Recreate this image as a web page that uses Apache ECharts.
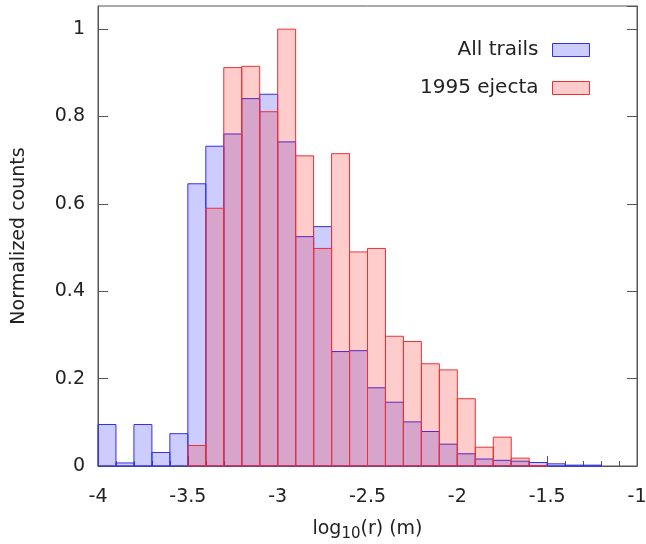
<!DOCTYPE html>
<html><head><meta charset="utf-8">
<script src="https://cdn.jsdelivr.net/npm/echarts@6/dist/echarts.min.js"></script>
<style>html,body{margin:0;padding:0;background:#fff}#c{width:646px;height:544px}</style>
</head><body><div id="c"></div>
<script>
// Histogram bins: left edges from -4 in steps of 0.1 (bin index i)
var binStart = -4, binWidth = 0.1;
var allTrails = [0.095,0.007,0.095,0.031,0.074,0.646,0.732,0.760,0.841,0.851,0.742,0.525,0.548,0.262,0.264,0.179,0.146,0.101,0.079,0.050,0.028,0.016,0.013,0.011,0.008,0.005,0.002,0.002];
var ejecta1995 = [null,null,null,null,null,0.047,0.590,0.912,0.915,0.811,1.0,0.710,0.498,0.715,0.490,0.498,0.297,0.285,0.234,0.220,0.154,0.043,0.066,0.018,0.001];
var xTicks = [-4,-3.5,-3,-2.5,-2,-1.5,-1];
var yTicks = [0,0.2,0.4,0.6,0.8,1];

function toData(arr){
  var out=[];
  arr.forEach(function(v,i){
    if(v===null) return;
    var x0 = +(binStart + i*binWidth).toFixed(2);
    out.push([x0, +(x0+binWidth).toFixed(2), v]);
  });
  return out;
}
function renderBar(fill, stroke){
  return function(params, api){
    var p0 = api.coord([api.value(0), api.value(2)]);
    var p1 = api.coord([api.value(1), 0]);
    return {type:'rect', shape:{x:p0[0], y:p0[1], width:p1[0]-p0[0], height:p1[1]-p0[1]},
      style:{fill:fill, stroke:stroke, lineWidth:1}};
  };
}
var font = 'DejaVu Sans';
var tc = '#222';
var chart = echarts.init(document.getElementById('c'), null, {renderer:'canvas'});
chart.setOption({
  animation:false,
  textStyle:{fontFamily:font},
  grid:{left:98, right:9, top:6, bottom:78, outerBoundsMode:'none', containLabel:false, show:true, borderColor:'#555', borderWidth:1, backgroundColor:'transparent'},
  legend:{
    orient:'vertical', right:51, top:35, align:'right', itemWidth:37, itemHeight:13, itemGap:18,
    textStyle:{fontFamily:font, fontSize:20, color:tc, padding:[0,9,0,0]},
    data:[
      {name:'All trails', icon:'rect', itemStyle:{color:'rgba(0,0,255,0.2)', borderColor:'#3030ee', borderWidth:1}},
      {name:'1995 ejecta', icon:'rect', itemStyle:{color:'rgba(255,0,0,0.2)', borderColor:'#ee3030', borderWidth:1}}
    ]
  },
  xAxis:{
    type:'value', min:xTicks[0], max:xTicks[xTicks.length-1], interval:0.5,
    name:'{a|log}{s|10}{a|(r) (m)}', nameLocation:'middle', nameGap:50,
    nameTextStyle:{rich:{a:{fontFamily:font,fontSize:19,color:tc}, s:{fontFamily:font,fontSize:15,color:tc,verticalAlign:'bottom',padding:[11,0,0,0]}}},
    axisLine:{show:true, onZero:false, lineStyle:{color:'#555'}},
    axisTick:{show:true, inside:true, length:10, lineStyle:{color:'#555'}},
    minorTick:{show:true, splitNumber:5, length:5, lineStyle:{color:'#555'}},
    splitLine:{show:false},
    axisLabel:{margin:22, fontFamily:font, fontSize:19, color:tc, formatter:function(v){return String(v);}}
  },
  yAxis:[{
    type:'value', min:0, max:1.053, interval:0.2,
    name:'Normalized counts', nameLocation:'middle', nameGap:69,
    nameTextStyle:{fontFamily:font, fontSize:19, color:tc},
    axisLine:{show:true, lineStyle:{color:'#555'}},
    axisTick:{show:true, inside:true, length:10, lineStyle:{color:'#555'}},
    splitLine:{show:false},
    axisLabel:{margin:13, fontFamily:font, fontSize:19, color:tc, showMaxLabel:false,
      formatter:function(v){return yTicks.indexOf(+v.toFixed(2))>=0?String(+v.toFixed(2)):'';}}
  },{
    type:'value', min:0, max:1.053, interval:0.2, position:'right',
    axisLine:{show:true, lineStyle:{color:'#555'}},
    axisTick:{show:true, inside:true, length:10, lineStyle:{color:'#555'}},
    axisLabel:{show:false}, splitLine:{show:false}
  }],
  series:[
    {name:'All trails', type:'custom', renderItem:renderBar('rgba(0,0,255,0.2)','#3030ee'), data:toData(allTrails), encode:{x:[0,1], y:2}, itemStyle:{color:'rgba(0,0,255,0.2)'}},
    {name:'1995 ejecta', type:'custom', renderItem:renderBar('rgba(255,0,0,0.2)','#ee3030'), data:toData(ejecta1995), encode:{x:[0,1], y:2}, itemStyle:{color:'rgba(255,0,0,0.2)'}}
  ]
});
</script></body></html>
